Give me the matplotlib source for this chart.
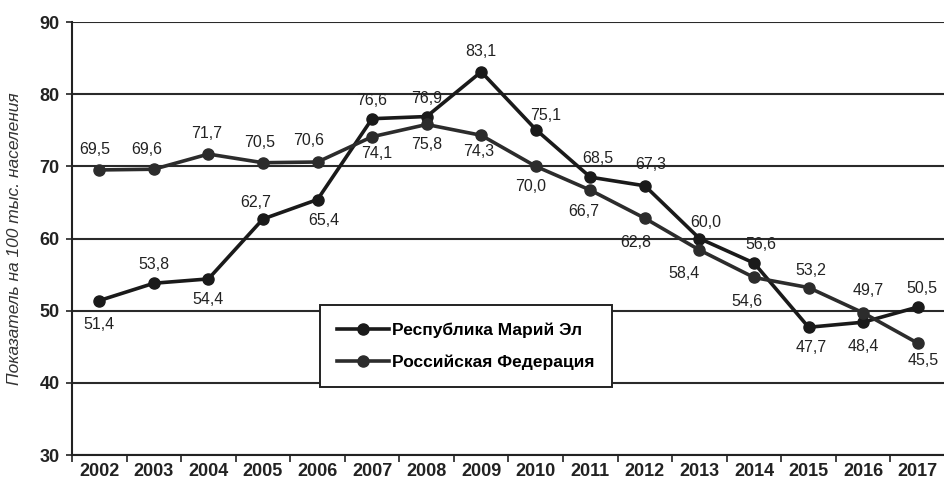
import matplotlib.pyplot as plt
from matplotlib.ticker import FixedLocator

# data
years = [2002, 2003, 2004, 2005, 2006, 2007, 2008, 2009,
         2010, 2011, 2012, 2013, 2014, 2015, 2016, 2017]
mari_el = [51.4, 53.8, 54.4, 62.7, 65.4, 76.6, 76.9, 83.1,
           75.1, 68.5, 67.3, 60.0, 56.6, 47.7, 48.4, 50.5]
russia = [69.5, 69.6, 71.7, 70.5, 70.6, 74.1, 75.8, 74.3,
          70.0, 66.7, 62.8, 58.4, 54.6, 53.2, 49.7, 45.5]
y_ticks = [30, 40, 50, 60, 70, 80, 90]

series_names = ['Республика Марий Эл', 'Российская Федерация']
y_title = 'Показатель на 100 тыс. населения'

# label offsets (pixels) so the numbers sit where they do in the original
mari_offsets = [(0, -24), (0, 19), (0, -21), (-7, 17), (6, -21), (0, 18), (0, 18), (0, 20),
                (10, 14), (7, 19), (6, 21), (6, 16), (7, 19), (3, -20), (0, -24), (4, 19)]
russia_offsets = [(-5, 20), (-7, 20), (-2, 21), (-3, 20), (-9, 22), (5, -17), (0, -20), (-3, -16),
                  (-5, -20), (-7, -21), (-9, -24), (-15, -23), (-7, -24), (2, 17), (5, 22), (5, -17)]

narrow = ['Liberation Sans Narrow', 'Liberation Sans', 'DejaVu Sans']
plt.rcParams['font.family'] = ['Liberation Sans', 'DejaVu Sans']

fig = plt.figure(figsize=(9.45, 4.95), dpi=100)
ax = fig.add_axes([72 / 945, 1 - 455 / 495, 1 - 72 / 945, 433 / 495])

x = list(range(len(years)))

ax.plot(x, mari_el, color='#1a1a1a', lw=2.6, marker='o', ms=8,
        label=series_names[0], zorder=3)
ax.plot(x, russia, color='#2c2c2c', lw=2.6, marker='o', ms=8,
        label=series_names[1], zorder=3)

for xi, v, off in zip(x, mari_el, mari_offsets):
    ax.annotate(f'{v:.1f}'.replace('.', ','), (xi, v), xytext=off,
                textcoords='offset pixels', ha='center', va='center',
                fontsize=11.5, family=narrow, color='#222222', zorder=4)
for xi, v, off in zip(x, russia, russia_offsets):
    ax.annotate(f'{v:.1f}'.replace('.', ','), (xi, v), xytext=off,
                textcoords='offset pixels', ha='center', va='center',
                fontsize=11.5, family=narrow, color='#222222', zorder=4)

ax.set_xlim(-0.5, len(years) - 0.5)
ax.set_ylim(30, 90)
ax.set_yticks(y_ticks)
ax.set_yticklabels([str(t) for t in y_ticks], fontweight='bold', fontsize=13,
                   family=narrow, color='#222222')
ax.set_xticks(x)
ax.set_xticklabels([str(y) for y in years], fontweight='bold', fontsize=13,
                   family=narrow, color='#222222')
ax.xaxis.set_minor_locator(FixedLocator([i - 0.5 for i in range(len(years) + 1)]))
ax.tick_params(axis='x', which='major', length=0, pad=6)
ax.tick_params(axis='x', which='minor', length=5, width=1.2, color='#222222')
ax.tick_params(axis='y', length=4, width=1.2, color='#222222', pad=5)

ax.grid(axis='y', color='#2a2a2a', lw=1.5)
ax.set_axisbelow(True)
for side in ['top', 'right']:
    ax.spines[side].set_visible(False)
for side in ['left', 'bottom']:
    ax.spines[side].set_color('#222222')
    ax.spines[side].set_linewidth(1.5)

ax.set_ylabel(y_title, fontstyle='italic', fontsize=12.5, color='#333333')
ax.yaxis.set_label_coords(-50 / 873, 0.5)

leg = ax.legend(loc='upper left', bbox_to_anchor=(248 / 873, 150 / 433),
                prop={'weight': 'bold', 'size': 12.5, 'family': narrow},
                handlelength=3.0, handletextpad=0.15, labelspacing=0.95,
                borderpad=1.0, borderaxespad=0, fancybox=False, framealpha=1,
                edgecolor='#222222')
leg.get_frame().set_linewidth(1.4)
leg.set_zorder(5)

fig.savefig('out.png', dpi=100, facecolor='white')
